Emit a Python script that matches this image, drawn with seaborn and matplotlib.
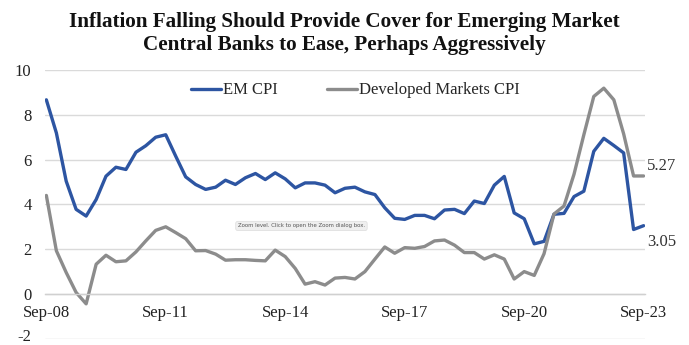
import numpy as np
import pandas as pd
import matplotlib
matplotlib.use("Agg")
import matplotlib.pyplot as plt
import matplotlib.transforms as mtransforms
import seaborn as sns

# ---- data (quarterly, Sep-08 .. Sep-23) ----
dates = pd.date_range("2008-09-30", "2023-09-30", freq="QE")
em_cpi = [8.67, 7.19, 5.04, 3.78, 3.48, 4.22, 5.26, 5.66, 5.56, 6.33, 6.62, 7.0, 7.11,
          6.15, 5.23, 4.89, 4.67, 4.77, 5.08, 4.89, 5.19, 5.38, 5.11, 5.41, 5.14,
          4.74, 4.96, 4.96, 4.86, 4.52, 4.72, 4.77, 4.56, 4.44, 3.85, 3.38, 3.33,
          3.51, 3.51, 3.36, 3.75, 3.78, 3.59, 4.15, 4.04, 4.86, 5.25, 3.62, 3.36,
          2.24, 2.35, 3.56, 3.6, 4.35, 4.59, 6.37, 6.95, 6.63, 6.3, 2.88, 3.05]
dm_cpi = [4.4, 1.93, 0.96, 0.07, -0.44, 1.33, 1.73, 1.44, 1.48, 1.88, 2.37, 2.84, 3.0,
          2.74, 2.47, 1.93, 1.94, 1.78, 1.51, 1.53, 1.53, 1.5, 1.48, 1.96, 1.67,
          1.14, 0.44, 0.55, 0.4, 0.71, 0.74, 0.67, 1.0, 1.56, 2.1, 1.82, 2.07,
          2.04, 2.12, 2.37, 2.41, 2.18, 1.85, 1.85, 1.56, 1.75, 1.56, 0.67, 1.0,
          0.83, 1.8, 3.57, 3.93, 5.35, 7.11, 8.82, 9.19, 8.67, 7.15, 5.27, 5.27]
series_names = ["EM CPI", "Developed Markets CPI"]
end_labels = ["3.05", "5.27"]
tick_labels = ["Sep-08", "Sep-11", "Sep-14", "Sep-17", "Sep-20", "Sep-23"]
y_ticks = [-2, 0, 2, 4, 6, 8, 10]

df = pd.concat([
    pd.DataFrame({"date": dates, "value": em_cpi, "series": series_names[0]}),
    pd.DataFrame({"date": dates, "value": dm_cpi, "series": series_names[1]}),
])

sns.set_theme(style="white")
plt.rcParams["font.family"] = ["Liberation Serif", "DejaVu Serif"]

fig = plt.figure(figsize=(6.89, 3.45), dpi=100)
ax = fig.add_axes([0.066, 0.018, 0.870, 0.779])

palette = {series_names[0]: "#2D55A2", series_names[1]: "#8C8C8C"}
sns.lineplot(data=df, x="date", y="value", hue="series", palette=palette,
             linewidth=2.4, ax=ax, legend=True)

ax.set_ylim(-2, 10)
ax.set_xlim(dates[0] - pd.Timedelta(days=8), dates[-1] + pd.Timedelta(days=12))
ax.set_yticks(y_ticks)
ax.set_yticklabels([str(v) for v in y_ticks], fontsize=12, color="#222222")
ax.yaxis.grid(True, color="#DADADA", linewidth=1.0)
ax.xaxis.grid(False)
for s in ["top", "right", "left"]:
    ax.spines[s].set_visible(False)
ax.spines["bottom"].set_position(("data", 0))
ax.spines["bottom"].set_color("#D0D0D0")
ax.spines["bottom"].set_linewidth(1.0)
ax.set_axisbelow(True)

tick_dates = [pd.Timestamp(f"20{t[-2:]}-09-30") for t in tick_labels]
ax.set_xticks(tick_dates)
ax.set_xticklabels(tick_labels, fontsize=12, color="#222222")
ax.tick_params(axis="x", direction="out", length=4, color="#D0D0D0", pad=4)
ax.tick_params(axis="y", length=0, pad=10)
# nudge the bottom "-2" label up so it stays inside the canvas
for lbl in ax.get_yticklabels():
    if lbl.get_text() == "-2":
        lbl.set_transform(lbl.get_transform() +
                          mtransforms.ScaledTranslation(0, 3 / 72, fig.dpi_scale_trans))
ax.set_xlabel("")
ax.set_ylabel("")

# legend
leg = ax.legend(title=None, loc="upper center", bbox_to_anchor=(0.517, 1.01), ncol=2,
                frameon=False, fontsize=12, handlelength=1.8, handletextpad=0.1,
                columnspacing=3.0)
for h in leg.get_lines():
    h.set_linewidth(2.4)

# end labels
ax.annotate(end_labels[1], xy=(dates[-1], dm_cpi[-1]), xytext=(2.5, 7),
            textcoords="offset points", fontsize=12, va="center", ha="left",
            color="#333333", annotation_clip=False)
ax.annotate(end_labels[0], xy=(dates[-1], em_cpi[-1]), xytext=(2.5, -12),
            textcoords="offset points", fontsize=12, va="center", ha="left",
            color="#333333", annotation_clip=False)

# screenshot tooltip artifact
fig.text(0.4375, 0.345, "Zoom level. Click to open the Zoom dialog box.",
         fontsize=3.9, family="DejaVu Sans", color="#555555", ha="center", va="center",
         bbox=dict(boxstyle="round,pad=0.4", facecolor="#EFEFEF", edgecolor="#DDDDDD",
                   linewidth=0.5))

fig.suptitle("Inflation Falling Should Provide Cover for Emerging Market\n"
             "Central Banks to Ease, Perhaps Aggressively",
             x=0.5, y=0.966, fontsize=15.2, fontweight="bold", linespacing=1.2,
             color="#111111")

fig.savefig("out.png", dpi=100)
